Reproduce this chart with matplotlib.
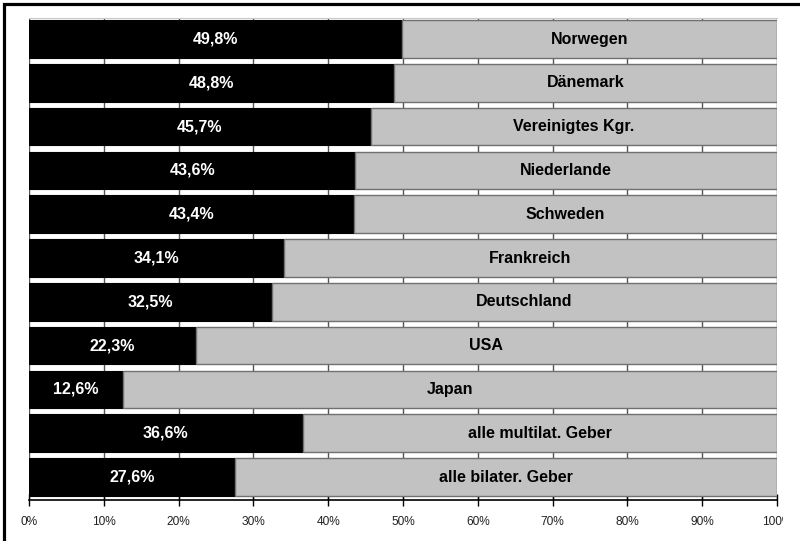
import matplotlib
matplotlib.use('Agg')
import matplotlib.pyplot as plt
from matplotlib.patches import Rectangle
from matplotlib.transforms import Bbox
import numpy as np

countries = ['Norwegen', 'Dänemark', 'Vereinigtes Kgr.', 'Niederlande', 'Schweden',
             'Frankreich', 'Deutschland', 'USA', 'Japan',
             'alle multilat. Geber', 'alle bilater. Geber']
share = [49.8, 48.8, 45.7, 43.6, 43.4, 34.1, 32.5, 22.3, 12.6, 36.6, 27.6]
share_labels = ['49,8%', '48,8%', '45,7%', '43,6%', '43,4%', '34,1%', '32,5%',
                '22,3%', '12,6%', '36,6%', '27,6%']
tick_vals = [0, 10, 20, 30, 40, 50, 60, 70, 80, 90, 100]
tick_labels = ['0%', '10%', '20%', '30%', '40%', '50%', '60%', '70%', '80%', '90%', '100%']

plt.rcParams['font.family'] = ['Liberation Sans', 'DejaVu Sans']

fig = plt.figure(figsize=(8, 5.41), dpi=100)
ax = fig.add_axes([29 / 800, 1 - 500 / 541, 748 / 800, 482 / 541])

y = np.arange(len(countries))
rest = [100 - s for s in share]

ax.barh(y, share, height=0.86, color='black', edgecolor='black', linewidth=0.8, zorder=2)
ax.barh(y, rest, left=share, height=0.86, color='#c2c2c2', edgecolor='#707070',
        linewidth=1.0, zorder=2)

for i in range(len(countries)):
    ax.text(share[i] / 2, y[i], share_labels[i], ha='center', va='center',
            color='white', fontsize=11.5, fontweight='bold', zorder=3)
    ax.text(share[i] + rest[i] / 2, y[i], countries[i], ha='center', va='center',
            color='black', fontsize=11.5, fontweight='bold', zorder=3)

ax.set_xlim(0, 100)
ax.set_ylim(len(countries) - 0.475, -0.48)
ax.set_yticks([])
ax.set_xticks(tick_vals)
ax.set_xticklabels(tick_labels, fontsize=8.6, color='#222222')
ax.tick_params(axis='x', direction='inout', length=9, width=1, pad=7)
ax.xaxis.grid(True, color='#555555', linewidth=1)
ax.set_axisbelow(True)
for s in ['left', 'right']:
    ax.spines[s].set_visible(False)
ax.spines['top'].set_color('#c8c8c8')
ax.spines['bottom'].set_linewidth(1.2)

# cut off the last tick label like in the original
for lbl in ax.get_xticklabels():
    lbl.set_clip_on(True)
    lbl.set_clip_box(Bbox([[0, 0], [783, 541]]))

# outer frame; its right and bottom edges lie outside the picture
top = 1 - 4 / 541
left = 3.5 / 800
fig.add_artist(Rectangle((left, -0.5), 1.5, top + 0.5, transform=fig.transFigure,
                         fill=False, edgecolor='black', linewidth=2.3))

fig.savefig('out.png', dpi=100)
